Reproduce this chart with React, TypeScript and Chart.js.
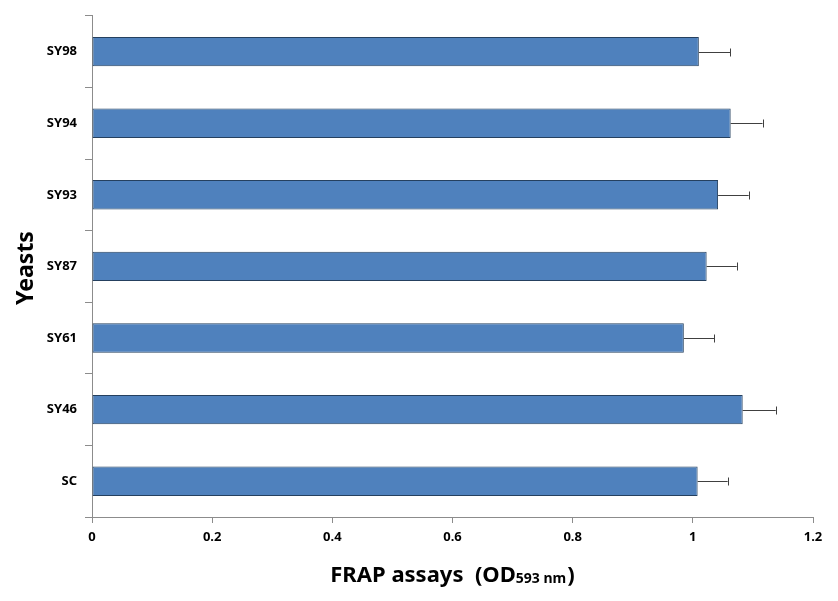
import React, { useEffect, useRef } from "react";
import { Chart, registerables } from "chart.js";

Chart.register(...registerables);

const categories = ["SY98", "SY94", "SY93", "SY87", "SY61", "SY46", "SC"];
const frapValues = [1.01, 1.063, 1.042, 1.023, 0.985, 1.083, 1.008];
const frapErrors = [0.052, 0.053, 0.051, 0.05, 0.051, 0.055, 0.05];
const xTicks = [0, 0.2, 0.4, 0.6, 0.8, 1, 1.2];

const FONT = "'Noto Sans', 'Open Sans', sans-serif";
const AXIS_COLOR = "#8c8c8c";

const errorBarPlugin = {
  id: "errorBars",
  afterDatasetsDraw(chart: any) {
    const ctx = chart.ctx;
    const xs = chart.scales.x;
    const meta = chart.getDatasetMeta(0);
    ctx.save();
    ctx.strokeStyle = "#404040";
    ctx.lineWidth = 1;
    meta.data.forEach((bar: any, i: number) => {
      const x0 = xs.getPixelForValue(frapValues[i]);
      const x1 = xs.getPixelForValue(frapValues[i] + frapErrors[i]);
      const y = Math.round(bar.y) + 0.5;
      ctx.beginPath();
      ctx.moveTo(x0, y);
      ctx.lineTo(x1, y);
      ctx.stroke();
      ctx.beginPath();
      ctx.moveTo(Math.round(x1) + 0.5, y - 4);
      ctx.lineTo(Math.round(x1) + 0.5, y + 4);
      ctx.stroke();
    });
    ctx.restore();
  },
};

const titlePlugin = {
  id: "customTitles",
  afterDraw(chart: any) {
    const ctx = chart.ctx;
    const area = chart.chartArea;
    ctx.save();
    ctx.fillStyle = "#000";
    // X axis title with subscript
    const big = `bold 22px ${FONT}`;
    const small = `bold 14px ${FONT}`;
    const partA = "FRAP assays  (OD";
    const partB = "593 nm";
    const partC = ")";
    ctx.font = big;
    const wA = ctx.measureText(partA).width;
    const wC = ctx.measureText(partC).width;
    ctx.font = small;
    const wB = ctx.measureText(partB).width;
    const total = wA + wB + wC + 1;
    const cx = (area.left + area.right) / 2;
    let x = cx - total / 2;
    const baseY = 582;
    ctx.textAlign = "left";
    ctx.textBaseline = "alphabetic";
    ctx.font = big;
    ctx.fillText(partA, x, baseY);
    x += wA;
    ctx.font = small;
    ctx.fillText(partB, x, baseY + 1);
    x += wB + 1;
    ctx.font = big;
    ctx.fillText(partC, x, baseY);

    // Y axis title rotated
    ctx.translate(33, 268);
    ctx.rotate(-Math.PI / 2);
    ctx.font = `bold 23px ${FONT}`;
    ctx.textAlign = "center";
    ctx.textBaseline = "alphabetic";
    ctx.fillText("Yeasts", 0, 0);
    ctx.restore();
  },
};

export default function App() {
  const canvasRef = useRef<HTMLCanvasElement | null>(null);

  useEffect(() => {
    if (!canvasRef.current) return;
    const chart = new Chart(canvasRef.current, {
      type: "bar",
      data: {
        labels: categories,
        datasets: [
          {
            label: "FRAP",
            data: frapValues,
            backgroundColor: "#4F81BD",
            borderColor: "#25405F",
            borderWidth: 1,
            borderSkipped: false,
            categoryPercentage: 1,
            barPercentage: 0.41,
          },
        ],
      },
      options: {
        indexAxis: "y",
        animation: false,
        responsive: true,
        maintainAspectRatio: false,
        layout: { padding: { top: 14, right: 25, left: 0, bottom: 0 } },
        plugins: {
          legend: { display: false },
          tooltip: { enabled: false },
          title: { display: false },
        },
        scales: {
          x: {
            type: "linear",
            min: xTicks[0],
            max: xTicks[xTicks.length - 1],
            afterFit: (scale: any) => {
              scale.height = 84;
            },
            afterBuildTicks: (scale: any) => {
              scale.ticks = xTicks.map((v) => ({ value: v }));
            },
            ticks: {
              color: "#000",
              font: { family: FONT, size: 13, weight: "bold" },
              padding: 6,
              callback: (v: any) => String(Number(Number(v).toFixed(1))),
            },
            grid: {
              drawOnChartArea: false,
              drawTicks: true,
              tickLength: 6,
              color: AXIS_COLOR,
            },
            border: { display: true, color: AXIS_COLOR },
          },
          y: {
            type: "category",
            afterFit: (scale: any) => {
              scale.width = 92;
            },
            ticks: {
              color: "#000",
              font: { family: FONT, size: 13, weight: "bold" },
              padding: 8,
            },
            grid: {
              offset: true,
              drawOnChartArea: false,
              drawTicks: true,
              tickLength: 7,
              color: AXIS_COLOR,
            },
            border: { display: true, color: AXIS_COLOR },
          },
        },
      } as any,
      plugins: [errorBarPlugin, titlePlugin],
    });
    return () => chart.destroy();
  }, []);

  return (
    <div
      style={{
        position: "fixed",
        left: 0,
        top: 0,
        width: "838px",
        height: "601px",
        background: "#fff",
      }}
    >
      <canvas ref={canvasRef} />
    </div>
  );
}
